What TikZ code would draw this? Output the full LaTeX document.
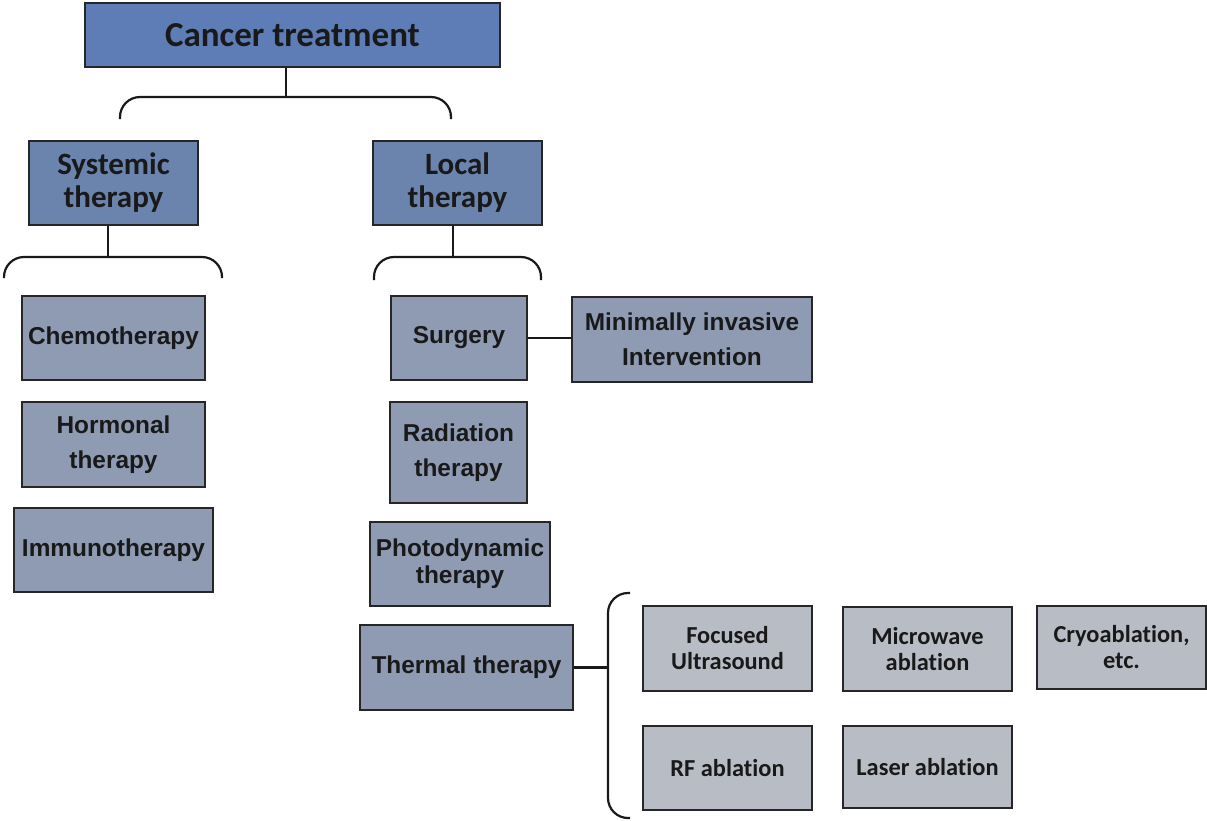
\documentclass[tikz,border=0pt]{standalone}
\usepackage{fontspec}
\setmainfont{Liberation Sans}[BoldFont={Liberation Sans Bold}]
\newfontfamily\calib{Carlito}[RawFeature=-liga]
\definecolor{topblue}{HTML}{5E7DB6}
\definecolor{secblue}{HTML}{6B84AE}
\definecolor{midgray}{HTML}{8F9BB3}
\definecolor{lightgray}{HTML}{B8BCC5}
\begin{document}
\begin{tikzpicture}[x=1pt,y=-1pt,
  box/.style={draw=black!85, line width=1.8pt, inner sep=0pt, align=center, text=black!90},
  lvlA/.style={box, fill=topblue, font=\calib\bfseries\fontsize{35}{40}\selectfont},
  lvlB/.style={box, fill=secblue, font=\calib\bfseries\fontsize{31}{33}\selectfont},
  lvlC/.style={box, fill=midgray, font=\bfseries\fontsize{24.4}{35}\selectfont},
  lvlD/.style={box, fill=lightgray, font=\calib\bfseries\fontsize{24.4}{26}\selectfont},
  conn/.style={line width=2.2pt, black!90, line cap=butt},
  brace/.style={conn, rounded corners=20pt}]
\useasboundingbox (0,0) rectangle (1207,820);

\node[lvlA, minimum width=415pt, minimum height=64pt] (ct) at (292.5,35) {Cancer treatment};

\node[lvlB, minimum width=169pt, minimum height=84pt] (sys) at (113.5,183) {Systemic\\therapy};
\node[lvlB, minimum width=169pt, minimum height=84pt] (loc) at (457.5,183) {Local\\therapy};

\node[lvlC, minimum width=183pt, minimum height=84pt] (chemo) at (113.5,338) {Chemotherapy};
\node[lvlC, minimum width=183pt, minimum height=85pt] (horm) at (113.5,444.5) {Hormonal\\therapy};
\node[lvlC, minimum width=199pt, minimum height=84pt] (immuno) at (113.5,550) {Immunotherapy};

\node[lvlC, minimum width=136pt, minimum height=84pt] (surg) at (459,338) {Surgery};
\node[lvlC, minimum width=240pt, minimum height=85pt] (mii) at (692,339.5) {Minimally invasive\\Intervention};
\node[lvlC, minimum width=137pt, minimum height=101pt] (rad) at (458.5,452.5) {Radiation\\therapy};
\node[lvlC, minimum width=180pt, minimum height=84pt, font=\bfseries\fontsize{24.4}{27}\selectfont] (photo) at (460,564) {Photodynamic\\therapy};
\node[lvlC, minimum width=213pt, minimum height=85pt] (thermal) at (466.5,667.5) {Thermal therapy};

\node[lvlD, minimum width=169pt, minimum height=85pt] (fus) at (727.5,648.5) {Focused\\Ultrasound};
\node[lvlD, minimum width=169pt, minimum height=84pt] (mw) at (927.5,649) {Microwave\\ablation};
\node[lvlD, minimum width=169pt, minimum height=83pt] (cryo) at (1121.5,647.5) {Cryoablation,\\etc.};
\node[lvlD, minimum width=169pt, minimum height=84pt] (rf) at (727.5,768) {RF ablation};
\node[lvlD, minimum width=169pt, minimum height=82pt] (laser) at (927.5,767) {Laser ablation};

% top brace
\coordinate (b1) at (286,97);
\draw[conn] (ct.south -| b1) -- (b1);
\draw[brace] (120,119) -- (120,97) -- (451,97) -- (451,119);

% systemic brace
\coordinate (b2) at (108,257);
\draw[conn] (sys.south -| b2) -- (b2);
\draw[brace] (4,278) -- (4,257) -- (222,257) -- (222,278);

% local brace
\coordinate (b3) at (453,257);
\draw[conn] (loc.south -| b3) -- (b3);
\draw[brace] (374,280) -- (374,257) -- (541,257) -- (541,280);

% surgery to MII
\draw[conn] (surg.east) -- (surg.east -| mii.west);

% thermal brace
\coordinate (b4) at (608,667.5);
\draw[conn] (thermal.east) -- (b4);
\draw[brace] (630,593) -- (608,593) -- (608,818) -- (630,818);
\end{tikzpicture}
\end{document}
